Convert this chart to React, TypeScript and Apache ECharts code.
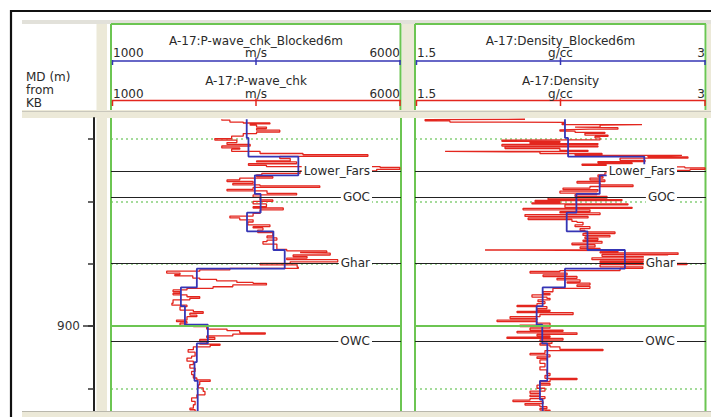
import React, { useEffect, useRef } from 'react';
import * as echarts from 'echarts';

const FONT = '"DejaVu Sans", Verdana, sans-serif';
const TXT = '#2a2a2a';
const GREEN = '#6cc552';
const DOT_GREEN = '#86d07a';
const BEIGE = '#ece9d8';
const RED = '#e3261e';
const BLUE = '#3535b5';

// depth axis (MD, m from KB)
const depthMin = 833.2;
const depthMax = 927.3;
const depthTicks = [840, 860, 880, 900, 920];
const depthLabels = [900];

// track scales
const vpScale = [1000, 6000];
const rhoScale = [1.5, 3];

// formation tops / contacts
const topNames = ['Lower_Fars', 'GOC', 'Ghar', 'OWC'];
const topDepths = [850.3, 858.7, 879.8, 904.8];
const zoneDepths = [900];

// blocked logs (6 m blocks)
const blockTops = [833.6, 839.6, 845.6, 851.6, 857.6, 863.6, 869.6, 875.6, 881.6, 887.6, 893.6, 899.6, 905.6, 911.6, 917.6, 923.6];
const blockBase = 927.4;
const vpBlocked = [3340, 3370, 4230, 3480, 3580, 3345, 3800, 3995, 2480, 2205, 2275, 2670, 2480, 2440, 2495, 2495];
const rhoBlocked = [2.273, 2.289, 2.682, 2.452, 2.332, 2.282, 2.389, 2.582, 2.273, 2.158, 2.127, 2.156, 2.182, 2.182, 2.144, 2.158];

// raw P-wave log
const vpDepth = [
  833.6, 833.9, 834.5, 834.8, 835.1, 835.5, 836.1, 836.6, 837.1, 837.7,
  838.2, 839.0, 839.8, 840.3, 841.1, 841.7, 842.2, 842.8, 843.2, 843.9,
  844.6, 845.0, 845.5, 846.2, 847.0, 847.3, 847.9, 848.4, 848.8, 849.1,
  849.7, 850.2, 851.0, 851.5, 852.0, 852.5, 853.1, 853.6, 854.2, 854.7,
  855.0, 855.5, 856.1, 856.6, 857.4, 857.9, 858.6, 859.5, 860.0, 860.8,
  861.7, 862.1, 862.7, 863.8, 864.7, 865.3, 865.9, 866.6, 867.5, 868.1,
  868.5, 869.2, 870.0, 871.1, 871.7, 872.4, 872.9, 873.7, 874.5, 875.4,
  875.9, 876.4, 876.6, 877.2, 877.7, 878.2, 878.7, 879.4, 879.9, 880.4,
  881.1, 881.5, 882.0, 882.4, 883.0, 883.5, 883.9, 884.6, 885.0, 885.5,
  886.0, 886.3, 886.8, 887.4, 887.9, 888.4, 889.0, 889.5, 890.0, 890.6,
  891.1, 891.6, 892.7, 893.3, 893.8, 894.9, 895.4, 895.9, 896.5, 897.0,
  898.1, 898.6, 899.1, 899.7, 900.2, 901.0, 901.5, 902.2, 902.6, 903.2,
  903.7, 904.3, 904.8, 905.5, 905.8, 906.2, 906.7, 907.6, 908.4, 909.7,
  910.3, 911.3, 912.4, 913.5, 914.6, 915.6, 916.7, 917.3, 917.8, 918.9,
  919.9, 921.0, 922.1, 923.1, 924.2, 925.3, 926.4, 926.9, 927.4,
];
const vpRaw = [
  2910, 3050, 3280, 3740, 3400, 3510, 3680, 3510, 3910, 3510,
  3280, 3080, 2790, 3170, 3000, 3400, 2910, 3220, 3080, 3570,
  4310, 5430, 3910, 4090, 3510, 4200, 3370, 3680, 5640, 5980,
  5580, 4260, 3600, 3510, 3790, 3220, 3000, 3450, 3100, 3570,
  4600, 3450, 3000, 3690, 4200, 3450, 3570, 3790, 3450, 3680,
  3450, 3970, 3570, 3450, 3050, 3220, 3450, 3360, 3740, 3450,
  3620, 3530, 3790, 3690, 3860, 3690, 3620, 3860, 3860, 4030,
  4720, 4260, 4780, 4140, 4380, 4030, 4910, 4090, 3570, 4210,
  4230, 3050, 2530, 1960, 2190, 2100, 2410, 2530, 2820, 3170,
  3450, 3680, 3100, 2760, 2310, 2070, 2190, 2070, 2310, 2530,
  2360, 2070, 2050, 2310, 2190, 2420, 2590, 2360, 2480, 2310,
  2130, 2310, 2190, 2420, 2650, 3000, 3220, 3660, 3100, 2650,
  2790, 2530, 2650, 2530, 2880, 2710, 2420, 2330, 2450, 2390,
  2310, 2420, 2360, 2450, 2390, 2420, 2480, 2710, 2530, 2505,
  2590, 2620, 2480, 2390, 2450, 2420, 2360, 2450, 2480,
];

// raw density log
const rhoDepth = [
  833.6, 833.7, 834.1, 834.5, 834.6, 835.0, 835.3, 835.5, 836.1, 836.3,
  836.8, 837.0, 837.4, 837.8, 838.1, 838.7, 839.1, 839.6, 840.2, 840.3,
  840.7, 841.0, 841.4, 841.7, 842.2, 842.5, 843.0, 843.6, 843.9, 844.1,
  844.6, 844.9, 845.2, 845.4, 845.7, 846.1, 846.8, 847.2, 847.6, 848.0,
  848.4, 848.9, 849.2, 849.7, 850.0, 850.8, 851.5, 852.0, 852.5, 853.1,
  853.6, 854.1, 854.7, 855.2, 855.7, 856.2, 856.7, 857.3, 857.8, 858.4,
  858.9, 859.4, 859.7, 860.1, 860.5, 860.8, 861.1, 861.9, 862.2, 862.7,
  863.3, 863.7, 864.2, 864.8, 865.3, 865.8, 866.4, 866.7, 867.5, 868.1,
  868.7, 869.3, 869.8, 870.3, 870.9, 871.4, 871.9, 872.4, 872.8, 873.4,
  873.9, 874.6, 875.1, 875.6, 875.8, 876.2, 876.5, 877.0, 877.6, 878.1,
  878.7, 879.2, 879.6, 879.9, 880.3, 881.0, 881.5, 882.2, 882.5, 883.0,
  883.6, 884.1, 884.7, 885.2, 885.8, 886.2, 886.8, 887.3, 887.9, 889.0,
  889.6, 890.0, 890.7, 891.1, 891.6, 892.2, 892.8, 893.4, 893.8, 894.4,
  894.9, 895.3, 895.7, 896.3, 897.0, 897.6, 898.1, 898.6, 899.1, 899.7,
  900.2, 900.7, 901.3, 901.7, 902.2, 902.7, 903.2, 903.6, 904.0, 904.5,
  905.0, 905.6, 906.1, 906.7, 907.5, 907.9, 908.8, 909.3, 909.9, 910.4,
  910.9, 912.0, 913.1, 914.1, 915.2, 915.9, 916.8, 917.2, 917.9, 918.5,
  919.0, 920.0, 920.9, 921.6, 922.2, 922.7, 923.3, 923.8, 924.3, 924.9,
  925.4, 925.9, 926.5, 927.0, 927.4,
];
const rhoRaw = [
  2.067, 1.552, 1.680, 1.964, 2.273, 2.258, 2.670, 2.454, 2.325, 2.546,
  2.402, 2.247, 2.325, 2.479, 2.376, 2.495, 2.428, 2.454, 2.309, 1.948,
  2.247, 2.093, 2.443, 1.948, 2.443, 1.964, 2.247, 2.392, 1.655, 2.144,
  2.464, 2.325, 2.876, 2.701, 2.907, 2.557, 2.686, 2.443, 2.619, 2.361,
  2.557, 2.891, 2.995, 2.918, 2.660, 2.479, 2.443, 2.469, 2.402, 2.479,
  2.335, 2.454, 2.624, 2.402, 2.263, 2.443, 2.247, 2.438, 2.325, 2.490,
  2.186, 2.567, 2.119, 2.247, 2.103, 2.598, 2.273, 2.619, 2.057, 2.402,
  2.247, 2.454, 2.067, 2.392, 2.083, 2.309, 2.335, 2.366, 2.325, 2.402,
  2.351, 2.376, 2.531, 2.366, 2.505, 2.376, 2.443, 2.366, 2.464, 2.309,
  2.428, 2.351, 2.454, 1.861, 2.546, 2.454, 2.856, 2.464, 2.804, 2.412,
  2.686, 2.454, 2.675, 2.902, 2.454, 2.675, 2.557, 2.247, 2.093, 2.284,
  2.160, 2.335, 2.232, 2.351, 2.284, 2.402, 2.335, 2.402, 2.211, 2.160,
  2.196, 2.103, 2.180, 2.196, 2.134, 2.170, 2.129, 2.026, 2.180, 2.129,
  2.196, 2.026, 2.315, 2.144, 1.990, 2.129, 1.923, 2.129, 2.196, 2.041,
  2.196, 2.093, 2.263, 2.026, 2.335, 2.129, 2.196, 1.974, 2.263, 2.144,
  2.206, 2.144, 2.196, 2.247, 2.469, 2.170, 2.093, 2.196, 2.129, 2.180,
  2.144, 2.170, 2.144, 2.180, 2.196, 2.170, 2.335, 2.196, 2.144, 2.196,
  2.129, 2.170, 2.093, 2.144, 2.093, 2.170, 2.093, 2.005, 2.160, 2.067,
  2.144, 2.180, 2.144, 2.196, 2.170,
];

// layout
const GRID_TOP = 118;
const GRID_H = 293;
const T1L = 111;
const T1R = 401;
const T2L = 415;
const T2R = 706;

function stepData(tops: number[], base: number, vals: number[]) {
  const out: number[][] = [];
  tops.forEach((t, i) => {
    const b = i + 1 < tops.length ? tops[i + 1] : base;
    out.push([vals[i], t], [vals[i], b]);
  });
  return out;
}

const ln = (x1: number, y1: number, x2: number, y2: number, stroke: string, lineWidth = 1, z = 1) => ({
  type: 'line', silent: true, z, shape: { x1, y1, x2, y2 }, style: { stroke, lineWidth },
});
const rc = (x: number, y: number, width: number, height: number, fill: string, z = 0) => ({
  type: 'rect', silent: true, z, shape: { x, y, width, height }, style: { fill },
});
const tx = (x: number, y: number, text: string, align = 'center') => ({
  type: 'text', silent: true, z: 3, x, y,
  style: { text, fill: TXT, fontSize: 12, fontFamily: FONT, align, verticalAlign: 'middle' },
});

function trackHeader(l: number, r: number, t1: string, t2: string, lo: string, unit: string, hi: string) {
  const c = (l + r) / 2;
  return [
    ln(l, 24, r, 24, GREEN, 2),
    ln(l, 24, l, 110, GREEN, 2),
    ln(r - 0.5, 24, r - 0.5, 110, GREEN, 2),
    tx(c, 40.5, t1),
    tx(l + 2, 53, lo, 'left'),
    tx(c, 53, unit),
    tx(r - 1, 53, hi, 'right'),
    ln(l + 1, 61, r - 0.5, 61, BLUE, 1.5),
    ln(l + 1.5, 60, l + 1.5, 65, BLUE, 1.5),
    ln(c, 57.5, c, 65, BLUE, 1.5),
    ln(r - 1, 60, r - 1, 65, BLUE, 1.5),
    tx(c, 81, t2),
    tx(l + 2, 94, lo, 'left'),
    tx(c, 94, unit),
    tx(r - 1, 94, hi, 'right'),
    ln(l + 1, 100.5, r - 0.5, 100.5, RED, 1.5),
    ln(l + 1.5, 100, l + 1.5, 106, RED, 1.5),
    ln(c, 98.5, c, 106, RED, 1.5),
    ln(r - 1, 100, r - 1, 106, RED, 1.5),
  ];
}

const graphics = [
  rc(22, 20, 689, 4, '#e2e1da'),
  rc(96.5, 24, 10.5, 393, BEIGE),
  rc(402, 24, 13, 86, BEIGE),
  rc(707, 24, 4, 86, BEIGE),
  rc(22, 110, 689, 8, BEIGE),
  ln(22, 111.5, 711, 111.5, '#c9c7bc', 1),
  rc(22, 411, 689, 6, BEIGE, 4),
  ln(22, 411.5, 711, 411.5, '#b9b7ac', 1, 4),
  ln(10, 11, 711, 11, '#111', 2.2),
  ln(11, 10, 11, 417, '#111', 2.2),
  tx(26, 77, 'MD (m)', 'left'),
  tx(26, 90, 'from', 'left'),
  tx(26, 103, 'KB', 'left'),
  ...trackHeader(T1L, T1R, 'A-17:P-wave_chk_Blocked6m', 'A-17:P-wave_chk', String(vpScale[0]), 'm/s', String(vpScale[1])),
  ...trackHeader(T2L, T2R, 'A-17:Density_Blocked6m', 'A-17:Density', String(rhoScale[0]), 'g/cc', String(rhoScale[1])),
  ln(T1L, GRID_TOP, T1L, GRID_TOP + GRID_H, GREEN, 2),
  ln(T1R, GRID_TOP, T1R, GRID_TOP + GRID_H, GREEN, 2),
  ln(T2L, GRID_TOP, T2L, GRID_TOP + GRID_H, GREEN, 2),
  ln(T2R - 0.5, GRID_TOP, T2R - 0.5, GRID_TOP + GRID_H, GREEN, 2),
];

const depthAxisBase = {
  type: 'value',
  inverse: true,
  min: depthMin,
  max: depthMax,
};

const topsMarkLine = {
  silent: true,
  symbol: ['none', 'none'],
  animation: false,
  emphasis: { disabled: true },
  lineStyle: { color: '#222', width: 1.2, type: 'solid' },
  label: {
    show: true,
    position: 'insideEnd',
    distance: 29,
    formatter: '{b}',
    color: TXT,
    fontSize: 12,
    fontFamily: FONT,
    backgroundColor: '#fff',
    padding: [1, 2],
  },
  data: topNames.map((n, i) => ({ name: n, yAxis: topDepths[i] })),
};

const zoneMarkLine = {
  silent: true,
  symbol: ['none', 'none'],
  animation: false,
  emphasis: { disabled: true },
  lineStyle: { color: GREEN, width: 2.2, type: 'solid' },
  label: { show: false },
  data: zoneDepths.map((d) => ({ yAxis: d })),
};

const option = {
  animation: false,
  backgroundColor: '#fff',
  graphic: { elements: graphics },
  grid: [
    { left: T1L, top: GRID_TOP, width: T1R - T1L, height: GRID_H, outerBoundsMode: 'none', show: false },
    { left: T2L, top: GRID_TOP, width: T2R - T2L, height: GRID_H, outerBoundsMode: 'none', show: false },
  ],
  xAxis: [
    { gridIndex: 0, type: 'value', min: vpScale[0], max: vpScale[1], show: false },
    { gridIndex: 1, type: 'value', min: rhoScale[0], max: rhoScale[1], show: false },
  ],
  yAxis: [
    {
      ...depthAxisBase,
      gridIndex: 0,
      position: 'left',
      offset: T1L - 94,
      axisLine: { show: true, lineStyle: { color: '#222', width: 2 } },
      axisTick: { show: true, inside: false, length: 6, customValues: depthTicks, lineStyle: { color: '#333', width: 1.5 } },
      axisLabel: { show: false },
      splitLine: { show: true, lineStyle: { color: DOT_GREEN, width: 1.5, type: [2, 3] } },
    },
    {
      ...depthAxisBase,
      gridIndex: 0,
      position: 'left',
      offset: T1L - 94,
      axisLine: { show: false },
      axisTick: { show: true, inside: false, length: 11, customValues: depthLabels, lineStyle: { color: '#333', width: 1.5 } },
      axisLabel: { show: true, customValues: depthLabels, margin: 14, color: '#333', fontSize: 12, fontFamily: FONT },
      splitLine: { show: false },
    },
    {
      ...depthAxisBase,
      gridIndex: 1,
      position: 'left',
      axisLine: { show: false },
      axisTick: { show: false, customValues: depthTicks },
      axisLabel: { show: false },
      splitLine: { show: true, lineStyle: { color: DOT_GREEN, width: 1.5, type: [2, 3] } },
    },
  ],
  series: [
    { name: 'zone1', type: 'line', xAxisIndex: 0, yAxisIndex: 0, data: [], z: 1, markLine: zoneMarkLine },
    { name: 'zone2', type: 'line', xAxisIndex: 1, yAxisIndex: 2, data: [], z: 1, markLine: zoneMarkLine },
    {
      name: 'A-17:P-wave_chk', type: 'line', xAxisIndex: 0, yAxisIndex: 0, z: 2,
      data: vpDepth.map((d, i) => [vpRaw[i], d]),
      step: 'start',
      showSymbol: false, symbol: 'none', clip: false, silent: true,
      lineStyle: { color: RED, width: 1.3 },
    },
    {
      name: 'A-17:P-wave_chk_Blocked6m', type: 'line', xAxisIndex: 0, yAxisIndex: 0, z: 3,
      data: stepData(blockTops, blockBase, vpBlocked),
      showSymbol: false, symbol: 'none', clip: false, silent: true,
      lineStyle: { color: BLUE, width: 1.8 },
    },
    {
      name: 'A-17:Density', type: 'line', xAxisIndex: 1, yAxisIndex: 2, z: 2,
      data: rhoDepth.map((d, i) => [rhoRaw[i], d]),
      step: 'start',
      showSymbol: false, symbol: 'none', clip: false, silent: true,
      lineStyle: { color: RED, width: 1.3 },
    },
    {
      name: 'A-17:Density_Blocked6m', type: 'line', xAxisIndex: 1, yAxisIndex: 2, z: 3,
      data: stepData(blockTops, blockBase, rhoBlocked),
      showSymbol: false, symbol: 'none', clip: false, silent: true,
      lineStyle: { color: BLUE, width: 1.8 },
    },
    { name: 'tops1', type: 'line', xAxisIndex: 0, yAxisIndex: 0, data: [], z: 5, markLine: topsMarkLine },
    { name: 'tops2', type: 'line', xAxisIndex: 1, yAxisIndex: 2, data: [], z: 5, markLine: topsMarkLine },
  ],
};

export default function App() {
  const ref = useRef<HTMLDivElement>(null);
  useEffect(() => {
    if (!ref.current) return;
    const chart = echarts.init(ref.current, null, { renderer: 'svg' });
    chart.setOption(option as any);
    return () => chart.dispose();
  }, []);
  return (
    <div
      ref={ref}
      style={{ position: 'fixed', left: 0, top: 0, width: 711, height: 417, background: '#fff' }}
    />
  );
}
